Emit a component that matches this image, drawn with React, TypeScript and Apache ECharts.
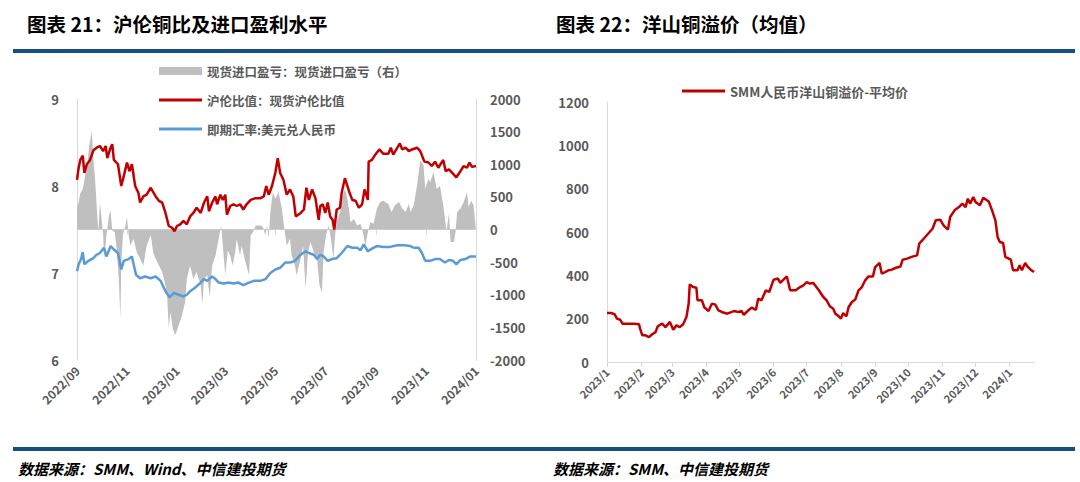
import { useEffect, useRef } from "react";
import * as echarts from "echarts";

// ---------- Left chart: 沪伦铜比及进口盈利水平 ----------
// x values are day offsets from 2022-09-01
const ratioDays = [0,2,4,7,9,12,16,20,24,28,32,35,37,41,43,45,50,54,57,61,64,67,71,75,77,81,85,90,96,100,104,108,112,116,119,122,126,130,134,138,142,146,151,155,159,161,165,169,171,175,178,181,183,187,191,195,199,203,207,212,218,224,228,231,234,238,242,245,248,252,256,260,264,267,273,277,280,283,287,291,295,297,300,303,306,309,312,314,317,321,323,327,332,336,340,344,348,351,355,356,360,364,369,374,380,383,386,391,394,397,401,405,409,415,419,424,429,433,437,441,447,450,454,458,463,468,472,476,479,482,487];
const ratioValues = [8.07,8.21,8.30,8.35,8.15,8.25,8.30,8.41,8.44,8.46,8.40,8.46,8.32,8.44,8.48,8.30,8.25,8.00,8.11,8.27,8.17,8.25,8.00,7.92,7.81,7.88,7.90,7.98,7.88,7.83,7.81,7.69,7.54,7.52,7.48,7.54,7.56,7.60,7.56,7.65,7.69,7.75,7.69,7.81,7.88,7.71,7.81,7.88,7.79,7.90,7.84,7.90,7.67,7.77,7.79,7.77,7.79,7.73,7.79,7.84,7.86,7.86,7.88,8.00,7.90,8.00,8.15,8.32,8.15,8.07,7.90,7.96,7.88,7.65,7.69,7.73,7.98,7.84,7.96,7.86,7.61,7.77,7.79,7.69,7.81,7.65,7.61,7.50,7.73,7.75,7.92,8.09,7.94,7.84,7.83,7.75,7.79,7.96,7.84,8.28,8.30,8.36,8.42,8.37,8.37,8.44,8.36,8.44,8.49,8.42,8.44,8.40,8.42,8.44,8.40,8.28,8.27,8.23,8.28,8.21,8.30,8.17,8.19,8.15,8.10,8.17,8.23,8.21,8.27,8.22,8.23];

const fxDays = [0,2,5,7,9,14,20,24,28,33,36,41,45,50,54,57,63,67,72,77,83,90,96,102,108,113,118,124,130,134,138,144,151,155,159,165,169,173,179,185,191,197,203,210,216,224,230,236,242,248,254,260,266,273,279,283,289,293,297,301,306,311,317,323,330,336,342,346,350,355,360,366,374,382,391,399,407,411,417,421,425,431,437,443,449,454,459,463,468,474,480,487];
const fxValues = [7.02,7.10,7.16,7.24,7.10,7.14,7.17,7.21,7.23,7.29,7.19,7.31,7.27,7.23,7.04,7.14,7.16,7.19,6.98,6.94,6.96,6.94,6.96,6.91,6.79,6.72,6.77,6.75,6.73,6.75,6.79,6.83,6.89,6.93,6.91,6.96,6.93,6.89,6.88,6.89,6.88,6.89,6.86,6.89,6.91,6.91,6.93,7.00,7.04,7.06,7.12,7.12,7.14,7.21,7.25,7.23,7.21,7.16,7.21,7.19,7.14,7.16,7.17,7.23,7.31,7.29,7.29,7.26,7.33,7.25,7.28,7.31,7.30,7.30,7.32,7.32,7.31,7.29,7.29,7.23,7.14,7.14,7.16,7.16,7.12,7.15,7.14,7.10,7.15,7.16,7.19,7.19];

const profitDays = [0,2,4,7,10,13,15,18,20,22,24,26,28,30,32,33,36,39,41,43,46,48,51,53,54,56,59,61,63,65,69,73,77,81,85,90,93,96,100,104,108,110,112,114,117,120,124,128,132,134,138,142,146,151,153,155,159,162,165,169,173,176,178,181,184,187,190,193,195,199,201,205,210,212,215,218,224,227,230,232,234,236,239,242,246,250,253,256,260,262,266,268,273,276,279,282,285,289,293,296,299,301,304,307,310,313,315,317,321,323,327,330,334,338,342,346,349,352,355,358,362,366,370,374,380,384,388,393,397,401,405,407,411,415,419,423,425,429,431,435,439,443,447,451,454,456,460,462,464,468,472,476,478,481,484,487];
const profitValues = [320,420,550,620,830,1030,1290,1510,1080,780,370,-40,420,160,-90,-470,-90,210,290,-20,-40,-250,-760,-1370,-550,-90,60,190,-90,-250,-140,-350,-450,-550,-250,-90,-350,-450,-550,-650,-860,-1010,-1500,-1270,-1520,-1620,-1470,-1320,-1110,-760,-550,-760,-650,-860,-1140,-760,-700,-1040,-550,-400,-140,60,-250,-700,-320,-400,-550,-350,-140,-400,-250,-470,-700,-90,-40,60,60,40,-90,60,-140,270,570,470,570,320,10,-250,-140,-400,-550,-700,-450,-250,-910,-350,-190,-350,-450,-860,-960,-350,-90,60,-140,-450,-90,110,270,470,620,470,110,160,60,90,-40,-250,-40,110,90,320,420,440,390,270,370,420,320,270,390,270,370,670,1060,980,620,780,720,880,620,670,370,-20,240,-190,-190,-40,270,320,420,570,340,440,370,-20];

const leftTickLabels = ["2022/09","2022/11","2023/01","2023/03","2023/05","2023/07","2023/09","2023/11","2024/01"];

// ---------- Right chart: 洋山铜溢价（均值） ----------
// x values are day offsets from 2023-01-01
const spreadDays = [0,4,7,9,12,14,18,24,29,30,32,35,38,41,44,46,50,53,57,60,63,66,69,72,74,75,78,81,82,86,88,92,95,98,101,104,109,115,119,122,124,128,131,135,137,140,144,147,151,155,157,160,163,166,171,175,178,181,184,187,192,196,199,202,205,207,210,212,214,217,219,222,225,228,231,234,237,241,243,247,249,252,255,258,262,266,268,272,276,281,283,287,291,295,298,302,305,309,311,315,319,322,325,327,329,332,334,338,341,346,349,352,354,356,359,361,366,368,372,374,376,379,381,384,387];
const spreadValues = [226,226,220,200,195,177,177,177,174,154,123,123,115,128,138,165,177,161,185,149,169,161,174,208,269,358,346,343,285,285,254,235,269,266,238,231,223,235,231,235,218,238,251,241,292,285,331,323,380,385,365,380,395,331,331,346,354,369,362,365,331,300,285,257,246,223,211,200,226,211,254,277,288,331,346,377,395,395,438,457,408,415,423,426,435,441,472,477,485,492,546,569,592,615,654,657,631,611,669,700,715,731,715,754,731,761,738,723,758,741,700,654,577,554,549,485,472,423,423,446,423,457,441,426,415];

const rightTickLabels = ["2023/1","2023/2","2023/3","2023/4","2023/5","2023/6","2023/7","2023/8","2023/9","2023/10","2023/11","2023/12","2024/1"];

const leftNames = ["现货进口盈亏：现货进口盈亏（右）", "沪伦比值：现货沪伦比值", "即期汇率:美元兑人民币"];
const rightName = "SMM人民币洋山铜溢价-平均价";

const FONT = '"Noto Sans CJK SC", "Noto Sans", sans-serif';
const LABEL = "#595959";
const AXIS = "#d9d9d9";
const NAVY = "#17507f";

const ts = (y: number, m: number, d: number) => new Date(y, m, d).getTime();
const labelTs = (s: string) => {
  const [y, m] = s.split("/").map(Number);
  return ts(y, m - 1, 1);
};
const pairs = (y: number, m: number, days: number[], vals: number[]) =>
  days.map((d, i) => [ts(y, m, 1 + d), vals[i]]);

function buildOption() {
  const leftTicks = leftTickLabels.map(labelTs);
  const rightTicks = rightTickLabels.map(labelTs);
  const axisLabelStyle = { color: LABEL, fontWeight: "bold" as const, fontFamily: FONT };
  const legendText = { color: LABEL, fontFamily: FONT, fontWeight: "bold" as const, lineHeight: 14 };
  const plain = (v: number) => String(v);
  const nearest = (ticks: number[], labels: string[], v: number) => {
    let best = -1, bd = Infinity;
    ticks.forEach((t, i) => { const d = Math.abs(t - v); if (d < bd) { bd = d; best = i; } });
    return bd < 86400000 ? labels[best] : "";
  };
  return {
    animation: false,
    backgroundColor: "#ffffff",
    grid: [
      { left: 77, top: 99, width: 399, height: 261 },
      { left: 607, top: 102, width: 427, height: 260 },
    ],
    legend: [
      { data: [leftNames[0]], left: 154, top: 59, itemWidth: 43, itemHeight: 8, icon: "rect", selectedMode: false, textStyle: { ...legendText, fontSize: 12.5 } },
      { data: [leftNames[1]], left: 154, top: 88, itemWidth: 43, itemHeight: 3, icon: "rect", selectedMode: false, textStyle: { ...legendText, fontSize: 12.5 } },
      { data: [leftNames[2]], left: 154, top: 117, itemWidth: 43, itemHeight: 3, icon: "rect", selectedMode: false, textStyle: { ...legendText, fontSize: 12.5 } },
      { data: [rightName], left: 677, top: 79, itemWidth: 43, itemHeight: 3, icon: "rect", selectedMode: false, textStyle: { ...legendText, fontSize: 13 } },
    ],
    xAxis: [
      {
        type: "value", gridIndex: 0,
        min: leftTicks[0], max: leftTicks[leftTicks.length - 1],
        axisLine: { show: true, lineStyle: { color: AXIS } },
        axisTick: { show: true, length: 5, lineStyle: { color: AXIS }, customValues: leftTicks },
        splitLine: { show: false },
        axisLabel: {
          ...axisLabelStyle, fontSize: 12, rotate: 45, margin: 8, customValues: leftTicks,
          formatter: (v: number) => nearest(leftTicks, leftTickLabels, v),
        },
      },
      {
        type: "value", gridIndex: 1,
        min: rightTicks[0], max: ts(2023, 0, 1 + spreadDays[spreadDays.length - 1]),
        axisLine: { show: true, lineStyle: { color: AXIS } },
        axisTick: { show: true, length: 5, lineStyle: { color: AXIS }, customValues: rightTicks },
        splitLine: { show: false },
        axisLabel: {
          ...axisLabelStyle, fontSize: 11, rotate: 45, margin: 8, customValues: rightTicks,
          formatter: (v: number) => nearest(rightTicks, rightTickLabels, v),
        },
      },
    ],
    yAxis: [
      {
        type: "value", gridIndex: 0, min: 6, max: 9, interval: 1,
        axisLine: { show: true, lineStyle: { color: AXIS } },
        axisTick: { show: false }, splitLine: { show: false },
        axisLabel: { ...axisLabelStyle, fontSize: 13, margin: 18, formatter: plain },
      },
      {
        type: "value", gridIndex: 0, position: "right", min: -2000, max: 2000, interval: 500,
        axisLine: { show: true, lineStyle: { color: AXIS } },
        axisTick: { show: false }, splitLine: { show: false },
        axisLabel: { ...axisLabelStyle, fontSize: 13, margin: 14, formatter: plain },
      },
      {
        type: "value", gridIndex: 1, min: 0, max: 1200, interval: 200,
        axisLine: { show: true, lineStyle: { color: AXIS } },
        axisTick: { show: false }, splitLine: { show: false },
        axisLabel: { ...axisLabelStyle, fontSize: 13, margin: 18, formatter: plain },
      },
    ],
    series: [
      {
        name: leftNames[0], type: "line", xAxisIndex: 0, yAxisIndex: 1,
        data: pairs(2022, 8, profitDays, profitValues),
        showSymbol: false, symbol: "none",
        lineStyle: { width: 0, color: "#bfbfbf" },
        itemStyle: { color: "#bfbfbf" },
        areaStyle: { color: "#bfbfbf", opacity: 1 },
        z: 1,
      },
      {
        name: leftNames[2], type: "line", xAxisIndex: 0, yAxisIndex: 0,
        data: pairs(2022, 8, fxDays, fxValues),
        showSymbol: false, symbol: "none",
        lineStyle: { width: 2.5, color: "#5b9bd5" },
        itemStyle: { color: "#5b9bd5" },
        z: 2,
      },
      {
        name: leftNames[1], type: "line", xAxisIndex: 0, yAxisIndex: 0,
        data: pairs(2022, 8, ratioDays, ratioValues),
        showSymbol: false, symbol: "none",
        lineStyle: { width: 2.5, color: "#c00000" },
        itemStyle: { color: "#c00000" },
        z: 3,
      },
      {
        name: rightName, type: "line", xAxisIndex: 1, yAxisIndex: 2,
        data: pairs(2023, 0, spreadDays, spreadValues),
        showSymbol: false, symbol: "none",
        lineStyle: { width: 2.5, color: "#c00000" },
        itemStyle: { color: "#c00000" },
      },
    ],
    graphic: [
      { type: "text", x: 27, y: 23, style: { text: "图表 21：沪伦铜比及进口盈利水平", fill: "#000", fontSize: 19.5, fontWeight: "bold", fontFamily: FONT, verticalAlign: "middle", textVerticalAlign: "middle" } },
      { type: "text", x: 556, y: 23, style: { text: "图表 22：洋山铜溢价（均值）", fill: "#000", fontSize: 19.5, fontWeight: "bold", fontFamily: FONT, verticalAlign: "middle", textVerticalAlign: "middle" } },
      { type: "rect", shape: { x: 13, y: 49, width: 1062, height: 4 }, style: { fill: NAVY } },
      { type: "rect", shape: { x: 13, y: 447, width: 1062, height: 4 }, style: { fill: NAVY } },
      { type: "text", x: 18, y: 468, style: { text: "数据来源：SMM、Wind、中信建投期货", fill: "#000", fontSize: 15, fontWeight: "bold", fontStyle: "italic", fontFamily: FONT, verticalAlign: "middle", textVerticalAlign: "middle" } },
      { type: "text", x: 553, y: 468, style: { text: "数据来源：SMM、中信建投期货", fill: "#000", fontSize: 15, fontWeight: "bold", fontStyle: "italic", fontFamily: FONT, verticalAlign: "middle", textVerticalAlign: "middle" } },
    ],
  };
}

export default function App() {
  const ref = useRef<HTMLDivElement>(null);
  useEffect(() => {
    document.body.style.margin = "0";
    const chart = echarts.init(ref.current as HTMLDivElement, null, { renderer: "svg" });
    chart.setOption(buildOption() as any);
    return () => chart.dispose();
  }, []);
  return <div ref={ref} style={{ width: 1080, height: 482 }} />;
}
